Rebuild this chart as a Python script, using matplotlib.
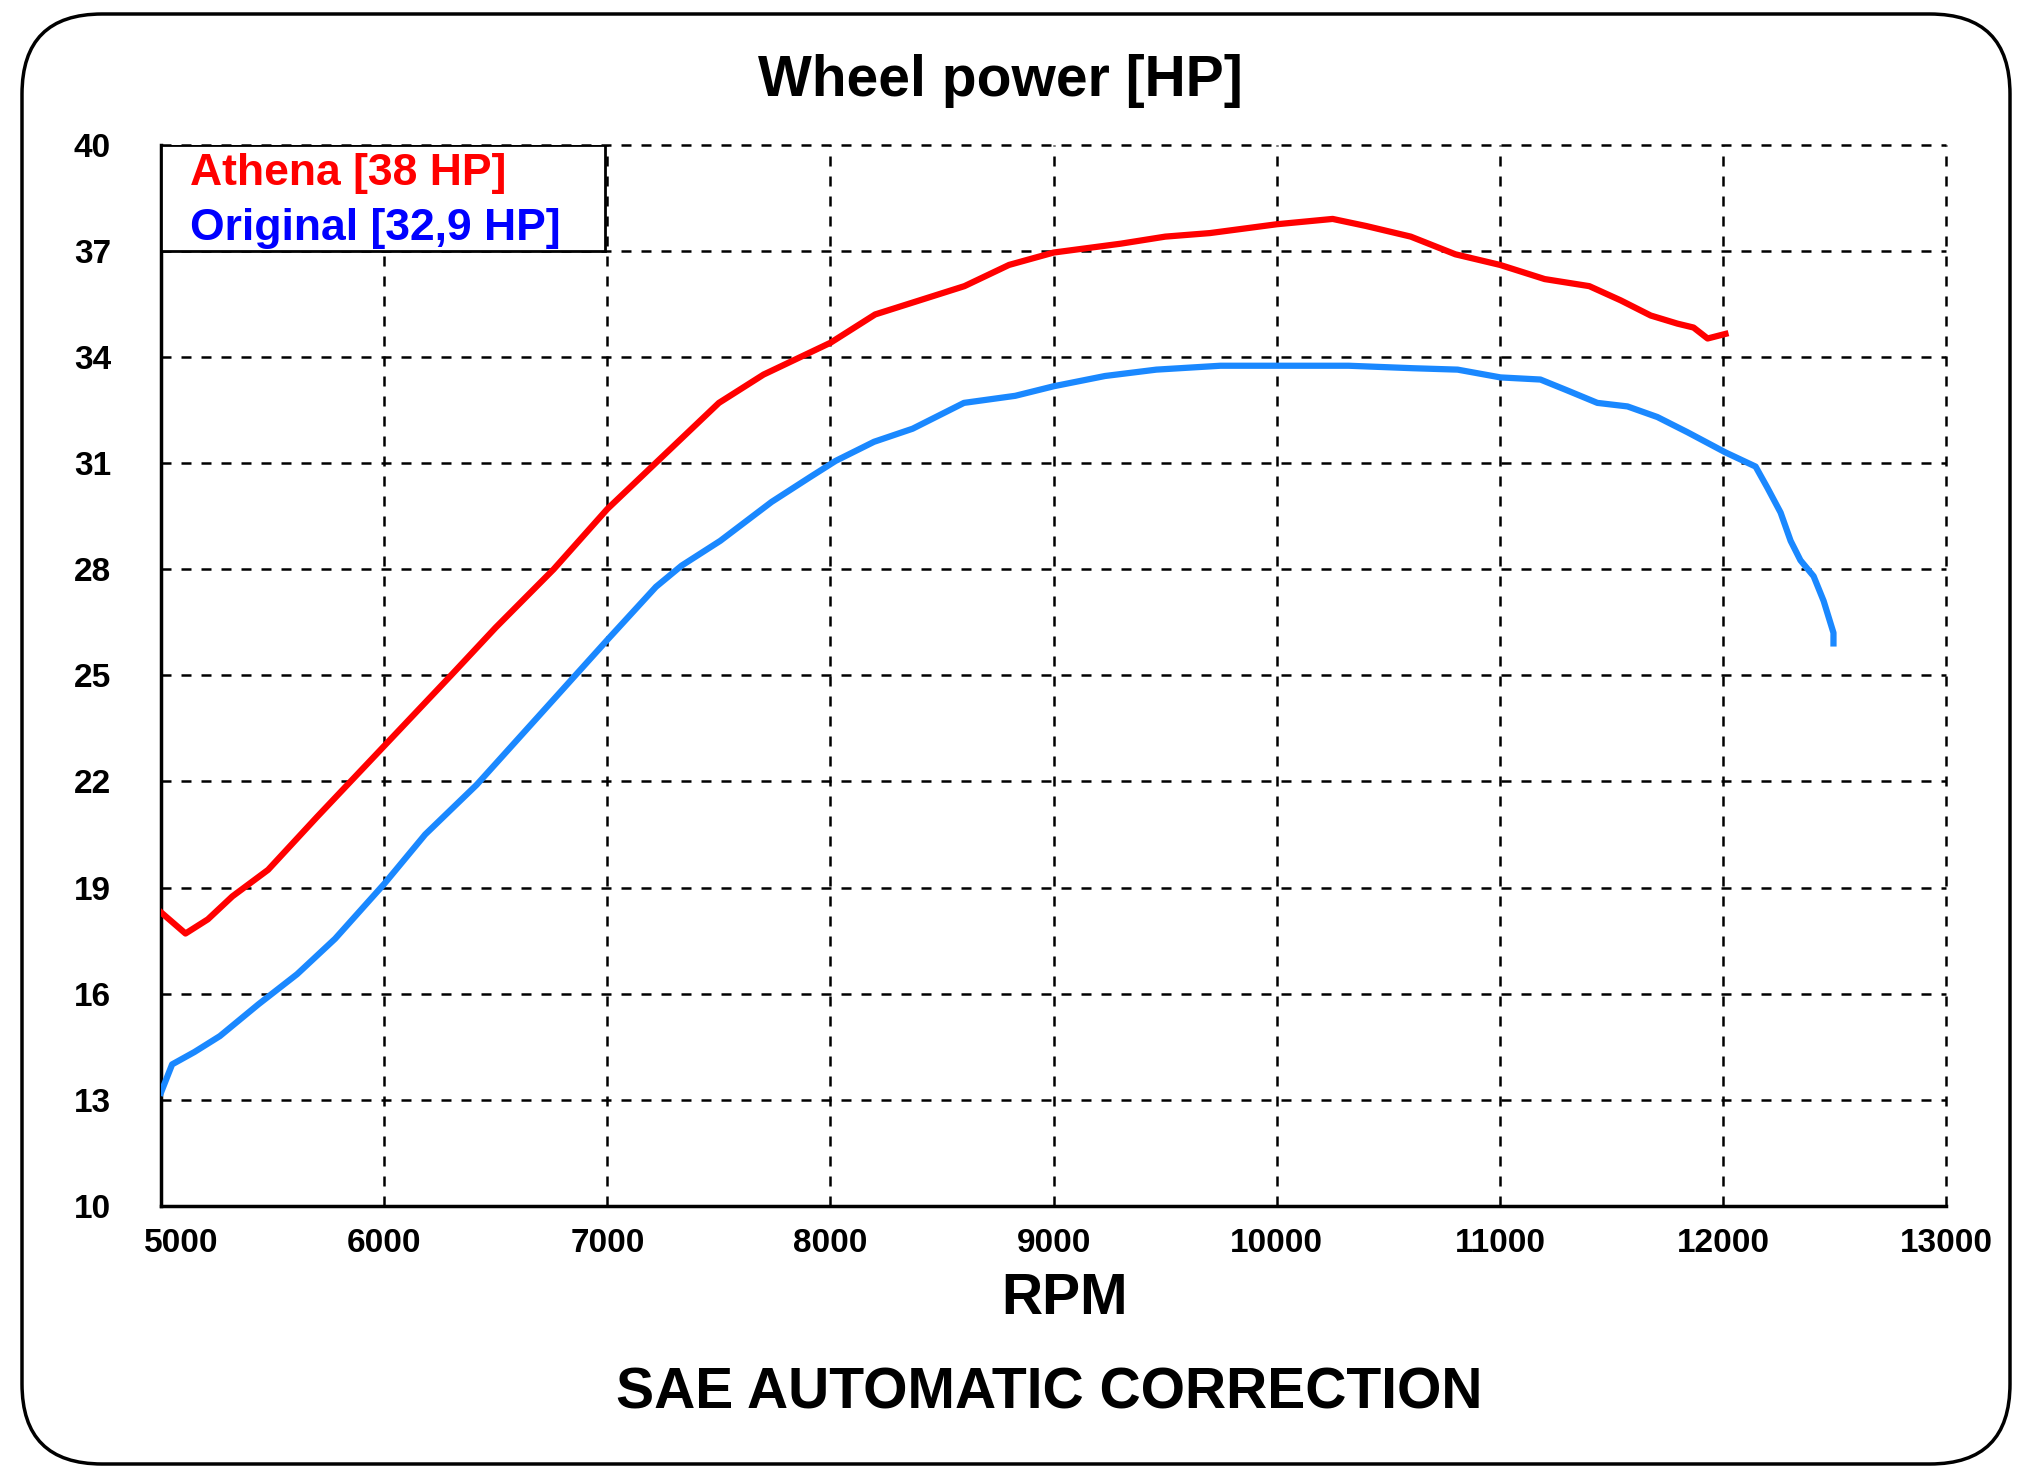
import numpy as np
import matplotlib
matplotlib.use("Agg")
import matplotlib.pyplot as plt
from matplotlib.patches import FancyBboxPatch
import matplotlib.transforms as mtransforms

# Athena (red) curve
athena_rpm = [5000, 5110, 5210, 5320, 5480, 5700, 6000, 6300, 6500, 6760, 7000, 7300,
              7500, 7700, 8000, 8200, 8400, 8600, 8800, 9000, 9300, 9500, 9700,
              10000, 10250, 10400, 10600, 10800, 11000, 11200, 11400, 11540,
              11675, 11795, 11867, 11930, 12010]
athena_hp = [18.3, 17.7, 18.1, 18.75, 19.5, 21.0, 23.0, 25.0, 26.35, 28.0, 29.7, 31.5,
             32.7, 33.5, 34.4, 35.2, 35.6, 36.0, 36.6, 36.95, 37.2, 37.4, 37.5,
             37.75, 37.9, 37.7, 37.4, 36.9, 36.6, 36.2, 36.0, 35.6,
             35.17, 34.94, 34.83, 34.52, 34.65]

# Original (blue) curve
orig_rpm = [5000, 5050, 5150, 5264, 5437, 5610, 5780, 6000, 6184, 6414, 6700, 7000,
            7218, 7333, 7506, 7736, 7908, 8023, 8195, 8368, 8598, 8713, 8828, 9000,
            9230, 9460, 9747, 10034, 10322, 10609, 10810, 11002, 11181, 11302,
            11436, 11571, 11705, 11840, 12010, 12145, 12198, 12257, 12302, 12346,
            12405, 12450, 12494, 12494]
orig_hp = [13.2, 14.0, 14.35, 14.8, 15.7, 16.55, 17.55, 19.1, 20.5, 21.9, 23.9, 26.0,
           27.5, 28.1, 28.8, 29.9, 30.6, 31.06, 31.6, 31.97, 32.7, 32.8, 32.9, 33.17,
           33.46, 33.64, 33.75, 33.75, 33.75, 33.68, 33.64, 33.42, 33.36, 33.05,
           32.7, 32.6, 32.3, 31.87, 31.3, 30.9, 30.3, 29.6, 28.8, 28.25,
           27.8, 27.1, 26.2, 25.9]

x_ticks = [5000, 6000, 7000, 8000, 9000, 10000, 11000, 12000, 13000]
y_ticks = [10, 13, 16, 19, 22, 25, 28, 31, 34, 37, 40]
legend_labels = ["Athena [38 HP]", "Original [32,9 HP]"]

plt.rcParams['font.family'] = ['Liberation Sans', 'DejaVu Sans']

fig = plt.figure(figsize=(20.17, 14.76), dpi=100)
ax = fig.add_axes([0.0798, 0.183, 0.965 - 0.0798, 0.902 - 0.183])

# rounded outer frame
frame = FancyBboxPatch((0.22, 0.12), 19.88, 14.5,
                       boxstyle="round,pad=0,rounding_size=0.8",
                       transform=fig.dpi_scale_trans, fill=False,
                       edgecolor='black', linewidth=2.5, zorder=0)
fig.patches.append(frame)

ax.plot(athena_rpm, athena_hp, color='#ff0000', linewidth=4.5, zorder=3)
ax.plot(orig_rpm, orig_hp, color='#1a88ff', linewidth=4.5, zorder=3)

ax.set_xlim(5000, 13000)
ax.set_ylim(10, 40)
ax.set_xticks(x_ticks)
ax.set_yticks(y_ticks)
ax.grid(True, color='black', linestyle=(0, (4, 4)), linewidth=1.8)
for gl in ax.get_xgridlines() + ax.get_ygridlines():
    gl.set_clip_on(False)

for s in ['top', 'right']:
    ax.spines[s].set_visible(False)
for s in ['left', 'bottom']:
    ax.spines[s].set_linewidth(2.5)

ax.tick_params(length=0, labelsize=24)
ax.tick_params(axis='y', pad=36)
ax.tick_params(axis='x', pad=16)
for lbl in ax.get_xticklabels() + ax.get_yticklabels():
    lbl.set_fontweight('bold')
# nudge first x label to the right like the original
first = ax.get_xticklabels()[0]
first.set_transform(first.get_transform() +
                    mtransforms.ScaledTranslation(0.2, 0, fig.dpi_scale_trans))

# legend box
ax.add_patch(plt.Rectangle((5000, 37), 1990, 3, facecolor='white', edgecolor='black',
                           linewidth=2.0, zorder=4))
ax.text(5130, 38.87, legend_labels[0], color='#ff0000', fontsize=32, fontweight='bold',
        va='baseline', ha='left', zorder=5)
ax.text(5130, 37.31, legend_labels[1], color='#0000ff', fontsize=32, fontweight='bold',
        va='baseline', ha='left', zorder=5)

fig.text(0.496, 0.945, "Wheel power [HP]", fontsize=41, fontweight='bold',
         ha='center', va='center')
fig.text(0.528, 0.12, "RPM", fontsize=41, fontweight='bold', ha='center', va='center')
fig.text(0.52, 0.056, "SAE AUTOMATIC CORRECTION", fontsize=41, fontweight='bold',
         ha='center', va='center')

fig.savefig("out.png", dpi=100)
